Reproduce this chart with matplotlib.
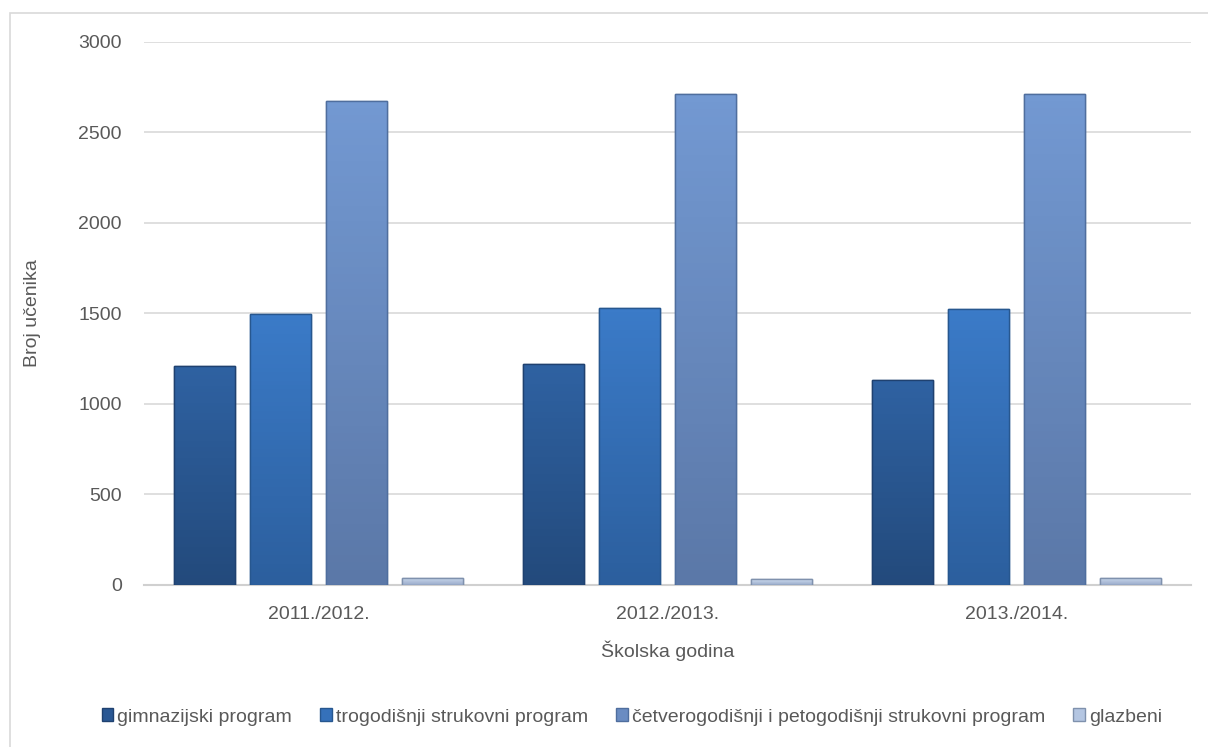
import numpy as np
import matplotlib.pyplot as plt
from matplotlib.patches import Rectangle
from matplotlib.colors import LinearSegmentedColormap

plt.rcParams['font.family'] = ['Liberation Sans', 'DejaVu Sans']

# data
years = ["2011./2012.", "2012./2013.", "2013./2014."]
series = ["gimnazijski program", "trogodišnji strukovni program",
          "četverogodišnji i petogodišnji strukovni program", "glazbeni"]
gimnazijski = [1212, 1222, 1133]
trogodisnji = [1499, 1528, 1525]
cetverogodisnji = [2675, 2710, 2715]
glazbeni = [40, 33, 39]
yticks = [0, 500, 1000, 1500, 2000, 2500, 3000]

values = [gimnazijski, trogodisnji, cetverogodisnji, glazbeni]
colors = ["#2a5894", "#3571ba", "#6a8cc2", "#b4c6e2"]
tops = ["#2f62a2", "#3b7bc8", "#7399d2", "#cfdcef"]
bottoms = ["#234a7c", "#2c5f9e", "#5b78a8", "#9aaccb"]
edges = ["#1f4170", "#27578f", "#4f6e9e", "#7f91ad"]

fig = plt.figure(figsize=(12.08, 7.47), dpi=100)
ax = fig.add_axes([0.1192, 0.2169, 0.8667, 0.7269])

# outer chart frame
fig.patches.append(Rectangle((10 / 1208, -0.1), 1.2, 1 - 13 / 747 + 0.1,
                             transform=fig.transFigure, fill=False,
                             edgecolor="#d9d9d9", linewidth=1.2))

x = np.arange(len(years))
slot = 0.218
width = 0.175
grad = np.linspace(1, 0, 64).reshape(-1, 1)
for i, (name, vals) in enumerate(zip(series, values)):
    bars = ax.bar(x + (i - 1.5) * slot, vals, width, color=colors[i],
                  edgecolor=edges[i], linewidth=1.0, label=name, zorder=3)
    cmap = LinearSegmentedColormap.from_list("g%d" % i, [bottoms[i], tops[i]])
    for b in bars:
        bx, by = b.get_x(), b.get_y()
        im = ax.imshow(grad, extent=[bx, bx + b.get_width(), by, by + b.get_height()],
                       cmap=cmap, aspect="auto", zorder=3.5, vmin=0, vmax=1)
        im.set_clip_path(b)
        # edge drawn again over gradient
        ax.add_patch(Rectangle((bx, by), b.get_width(), b.get_height(),
                               fill=False, edgecolor=edges[i], linewidth=1.0,
                               zorder=4))

ax.set_xlim(-0.5, 2.5)
ax.set_ylim(0, 3000)
ax.set_yticks(yticks)
ax.set_xticks(x)
ax.set_xticklabels(years)
ax.grid(axis="y", color="#d9d9d9", linewidth=1.2, zorder=0)
for s in ["top", "right", "left"]:
    ax.spines[s].set_visible(False)
ax.spines["bottom"].set_color("#d0d0d0")
ax.spines["bottom"].set_linewidth(1.5)
ax.tick_params(axis="both", length=0, labelsize=14, labelcolor="#595959")
ax.tick_params(axis="y", pad=16)
ax.tick_params(axis="x", pad=15)

ax.set_xlabel("Školska godina", fontsize=14, color="#595959", labelpad=13)
ax.set_ylabel("Broj učenika", fontsize=14, color="#595959", labelpad=27)

fig.legend(loc="center", bbox_to_anchor=(0.523, 1 - 717 / 747), ncol=4,
           frameon=False, fontsize=14, labelcolor="#595959",
           handlelength=0.6, handleheight=0.6, handletextpad=0.2,
           columnspacing=1.45)

plt.savefig("out.png", dpi=100)
